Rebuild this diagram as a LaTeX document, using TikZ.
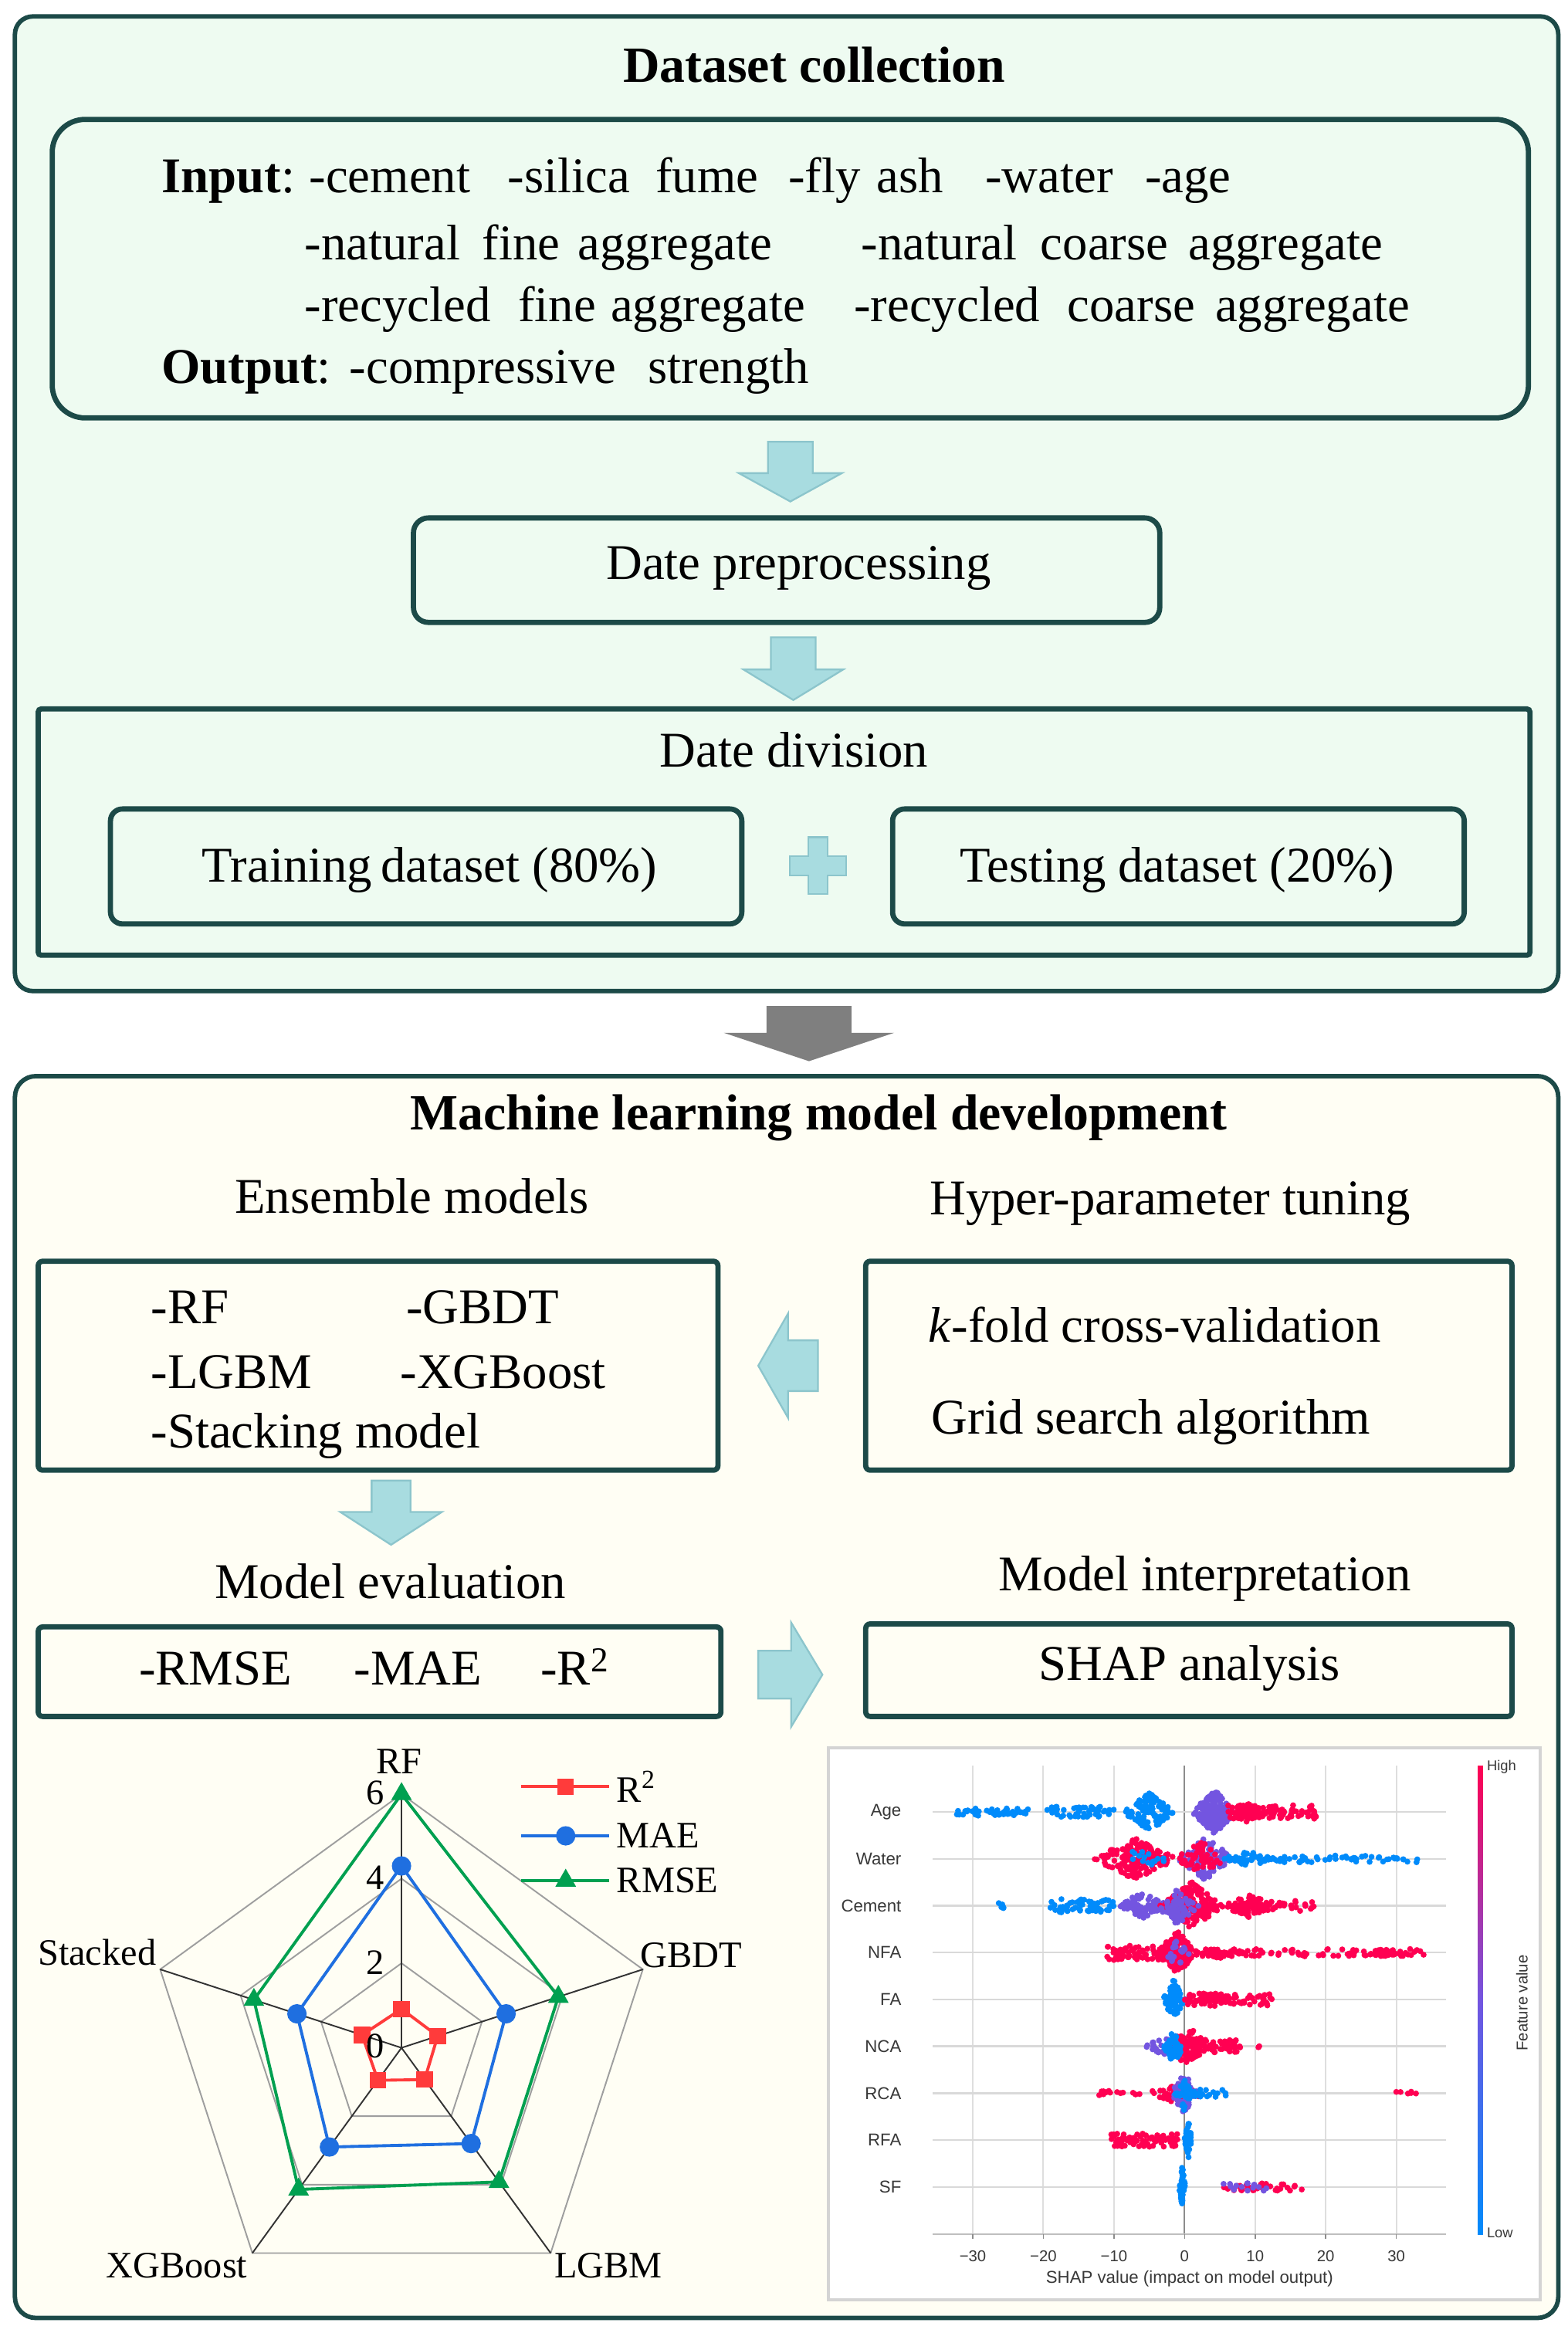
\documentclass[tikz,border=0pt]{standalone}
\usepackage{fontspec}
\setmainfont{Liberation Serif}
\newfontfamily\shapfont{Liberation Sans}
\usetikzlibrary{shapes.geometric}
\definecolor{bordc}{HTML}{1C4A48}
\definecolor{topfill}{HTML}{EEFBF1}
\definecolor{botfill}{HTML}{FFFEF4}
\definecolor{arrfill}{HTML}{A8DCE0}
\definecolor{arrdraw}{HTML}{8CC5CC}
\definecolor{grayarr}{HTML}{7F7F7F}
\definecolor{shapblue}{HTML}{008BFB}
\definecolor{shappink}{HTML}{FF0052}
\definecolor{shappurp}{HTML}{7355E0}
\definecolor{shapmag}{HTML}{B8309A}
\definecolor{r2c}{HTML}{FF3B3B}
\definecolor{maec}{HTML}{1F6FE0}
\definecolor{rmsec}{HTML}{00A050}
\newcommand\dnarrow[6]{% cx, top, headstart, tip, shafthalf, headhalf
  \draw[blockarr] ({#1-#5},#2) -- ({#1+#5},#2) -- ({#1+#5},#3) -- ({#1+#6},#3) -- (#1,#4) -- ({#1-#6},#3) -- ({#1-#5},#3) -- cycle;}
\newcommand\hzarrow[6]{% cy, tail, headbase, tip, shafthalf, headhalf
  \draw[blockarr] (#2,{#1-#5}) -- (#3,{#1-#5}) -- (#3,{#1-#6}) -- (#4,#1) -- (#3,{#1+#6}) -- (#3,{#1+#5}) -- (#2,{#1+#5}) -- cycle;}
\newcommand\swarm[6]{% row y, center v, halfwidth v, halfheight, count, colour
  \foreach \k in {1,...,#5}{%
    \pgfmathsetmacro\swu{(rand+rand)/2}%
    \pgfmathsetmacro\swv{rand}%
    \pgfmathsetmacro\swx{793.6+4.73*(#2+#3*\swu)}%
    \pgfmathsetmacro\swy{#1+#4*\swv*(1-abs(\swu))}%
    \fill[#6] (\swx,\swy) circle[radius=2];
  }}
\newcommand\swarmu[6]{% row y, low v, high v, halfheight, count, colour (uniform spread)
  \foreach \k in {1,...,#5}{%
    \pgfmathsetmacro\swu{(rand+1)/2}%
    \pgfmathsetmacro\swv{rand}%
    \pgfmathsetmacro\swx{793.6+4.73*(#2+(#3-#2)*\swu)}%
    \pgfmathsetmacro\swy{#1+#4*\swv}%
    \fill[#6] (\swx,\swy) circle[radius=2];
  }}
\tikzset{
  outerbox/.style={draw=bordc, line width=3pt, rounded corners=12pt, inner sep=0pt},
  inbox/.style={draw=bordc, line width=3.5pt, inner sep=0pt},
  wd/.style={font=\fontsize{33.5}{40}\selectfont, inner sep=0pt, anchor=base west},
  ctr/.style={font=\fontsize{33.5}{40}\selectfont, inner sep=0pt, anchor=base},
  ttl/.style={font=\fontsize{34}{40}\selectfont\bfseries, inner sep=0pt, anchor=base},
  blockarr/.style={fill=arrfill, draw=arrdraw, line width=1.2pt, line join=miter},
  radlab/.style={font=\fontsize{25}{30}\selectfont, inner sep=0pt},
  ticklab/.style={font=\fontsize{24}{28}\selectfont, inner sep=0pt},
  shaplab/.style={font=\shapfont\fontsize{11.5}{13}\selectfont, text=black!78, inner sep=0pt},
  sqm/.style={rectangle, fill=r2c, minimum size=11pt, inner sep=0pt},
  cim/.style={circle, fill=maec, minimum size=13pt, inner sep=0pt},
  trm/.style={regular polygon, regular polygon sides=3, fill=rmsec, minimum size=16pt, inner sep=0pt},
}
\begin{document}
\begin{tikzpicture}[x=1pt,y=-1pt]
\useasboundingbox (0,0) rectangle (1050,1563.1);
\fill[white] (0,0) rectangle (1050,1563.1);

% ---------------- top panel
\node[outerbox, fill=topfill, minimum width=1034pt, minimum height=653pt] (top) at (527,337.5) {};
\node[ttl] (ttop) at (545.5,55) {Dataset collection};
\node[inbox, rounded corners=22pt, minimum width=989pt, minimum height=200pt] (inp) at (529.5,180) {};
\node[wd] (w1) at (108,129) {\textbf{Input}:};
\node[wd] (w2) at (207,129) {-cement};
\node[wd] (w3) at (340,129) {-silica};
\node[wd] (w4) at (439,129) {fume};
\node[wd] (w5) at (528,129) {-fly};
\node[wd] (w6) at (587,129) {ash};
\node[wd] (w7) at (660,129) {-water};
\node[wd] (w8) at (767,129) {-age};
\node[wd] (w9) at (204,174) {-natural};
\node[wd] (w10) at (323,174) {fine};
\node[wd] (w11) at (387,174) {aggregate};
\node[wd] (w12) at (577,174) {-natural};
\node[wd] (w13) at (697,174) {coarse};
\node[wd] (w14) at (796,174) {aggregate};
\node[wd] (w15) at (204,215.6) {-recycled};
\node[wd] (w16) at (347,215.6) {fine};
\node[wd] (w17) at (409,215.6) {aggregate};
\node[wd] (w18) at (572,215.6) {-recycled};
\node[wd] (w19) at (715,215.6) {coarse};
\node[wd] (w20) at (814,215.6) {aggregate};
\node[wd] (w21) at (108,257) {\textbf{Output}:};
\node[wd] (w22) at (234,257) {-compressive};
\node[wd] (w23) at (434,257) {strength};

\dnarrow{529.5}{296}{317}{336}{15}{34.5}
\node[inbox, rounded corners=10pt, minimum width=500pt, minimum height=70pt] (prep) at (527,382) {};
\node[ctr] (tprep) at (535,388) {Date preprocessing};
\dnarrow{531.5}{427}{448.5}{469}{15}{33.5}

\node[inbox, rounded corners=2pt, minimum width=999.4pt, minimum height=165pt] (div) at (525.3,557.5) {};
\node[ctr] (tdiv) at (532,514) {Date division};
\node[inbox, rounded corners=8pt, minimum width=423pt, minimum height=77pt] (train) at (285.5,580.5) {};
\node[wd] (ttrain1) at (135,591) {Training};
\node[wd] (ttrain2) at (255,591) {dataset (80\%)};
\node[inbox, rounded corners=8pt, minimum width=383pt, minimum height=77pt] (test) at (789.5,580.5) {};
\node[wd] (ttest1) at (643,591) {Testing};
\node[wd] (ttest2) at (749,591) {dataset (20\%)};
\draw[blockarr] (541.5,561) -- (554.5,561) -- (554.5,573.5) -- (567,573.5) -- (567,586.5) -- (554.5,586.5) -- (554.5,599) -- (541.5,599) -- (541.5,586.5) -- (529,586.5) -- (529,573.5) -- (541.5,573.5) -- cycle;

% ---------------- grey arrow
\fill[grayarr] (513.5,674) -- (570.5,674) -- (570.5,692) -- (599,692) -- (542,711) -- (485,692) -- (513.5,692) -- cycle;

% ---------------- bottom panel
\node[outerbox, rounded corners=14pt, fill=botfill, minimum width=1034pt, minimum height=832pt] (bot) at (527,1137) {};
\node[ttl] (tbot) at (548.5,757) {Machine learning model development};
\node[ctr] (tens) at (276,813) {Ensemble models};
\node[ctr] (thyp) at (784,814) {Hyper-parameter tuning};
\node[inbox, rounded corners=3pt, minimum width=455.4pt, minimum height=140pt] (ens) at (253.3,915) {};
\node[wd] (e1) at (101,887) {-RF};
\node[wd] (e2) at (272,887) {-GBDT};
\node[wd] (e3) at (101,930) {-LGBM};
\node[wd] (e4) at (268,930) {-XGBoost};
\node[wd] (e5) at (101,970) {-Stacking model};
\node[inbox, rounded corners=3pt, minimum width=433pt, minimum height=140pt] (hyp) at (796.5,915) {};
\node[wd] (h1) at (622,899) {\textit{k}-fold cross-validation};
\node[wd] (h2) at (624,961) {Grid search algorithm};
\hzarrow{915}{548}{528}{508}{17}{35}
\dnarrow{262}{992}{1013}{1035}{13}{34}
\node[ctr] (teval) at (261.5,1071) {Model evaluation};
\node[ctr] (tint) at (807,1066) {Model interpretation};
\node[inbox, rounded corners=3pt, minimum width=457.4pt, minimum height=60pt] (eval) at (254.3,1120) {};
\node[wd] (m1) at (93,1129) {-RMSE};
\node[wd] (m2) at (237,1129) {-MAE};
\node[wd] (m3) at (362,1129) {-R\textsuperscript{2}};
\node[inbox, rounded corners=3pt, minimum width=433pt, minimum height=62pt] (shapbox) at (796.5,1119) {};
\node[ctr] (tshap) at (797,1126) {SHAP analysis};
\hzarrow{1122}{508}{530}{551}{16}{35}

% ---------------- radar chart
\begin{scope}[shift={(269,1372)}, x=28.333pt, y=28.333pt]
  \foreach \r in {2,4,6}
    \draw[black!38, line width=1pt] (90:\r) -- (18:\r) -- (-54:\r) -- (-126:\r) -- (162:\r) -- cycle;
  \foreach \a in {90,18,-54,-126,162}
    \draw[black!80, line width=1pt] (0,0) -- (\a:6);
  \draw[rmsec, line width=2pt] (90:6) -- (18:3.9) -- (-54:3.92) -- (-126:4.14) -- (162:3.67) -- cycle;
  \draw[maec, line width=2pt] (90:4.3) -- (18:2.6) -- (-54:2.8) -- (-126:2.9) -- (162:2.6) -- cycle;
  \draw[r2c, line width=2pt] (90:0.92) -- (18:0.9) -- (-54:0.93) -- (-126:0.95) -- (162:0.98) -- cycle;
  \foreach \a/\v/\n in {90/6/1,18/3.9/2,-54/3.92/3,-126/4.14/4,162/3.67/5}
    \node[trm] (rm\n) at (\a:\v) {};
  \foreach \a/\v/\n in {90/4.3/1,18/2.6/2,-54/2.8/3,-126/2.9/4,162/2.6/5}
    \node[cim] (ma\n) at (\a:\v) {};
  \foreach \a/\v/\n in {90/0.92/1,18/0.9/2,-54/0.93/3,-126/0.95/4,162/0.98/5}
    \node[sqm] (rs\n) at (\a:\v) {};
\end{scope}
\node[ticklab] (k6) at (251.5,1201) {6};
\node[ticklab] (k4) at (251.5,1258) {4};
\node[ticklab] (k2) at (251.5,1315) {2};
\node[ticklab] (k0) at (251.5,1371) {0};
\node[radlab] (lrf) at (267.5,1180) {RF};
\node[radlab] (lgb) at (463,1310) {GBDT};
\node[radlab] (llg) at (407.5,1518) {LGBM};
\node[radlab] (lxg) at (118.5,1518) {XGBoost};
\node[radlab] (lst) at (65,1308) {Stacked};
\coordinate (g1a) at (349,1197); \coordinate (g1b) at (408,1197);
\coordinate (g2a) at (349,1230); \coordinate (g2b) at (408,1230);
\coordinate (g3a) at (349,1260); \coordinate (g3b) at (408,1260);
\draw[r2c, line width=2pt] (g1a) -- (g1b);
\draw[maec, line width=2pt] (g2a) -- (g2b);
\draw[rmsec, line width=2pt] (g3a) -- (g3b);
\node[sqm] (lg1) at (379,1197) {};
\node[cim] (lg2) at (379,1230) {};
\node[trm] (lg3) at (379,1260) {};
\node[radlab, anchor=west] (lt1) at (413,1197) {R\textsuperscript{2}};
\node[radlab, anchor=west] (lt2) at (413,1230) {MAE};
\node[radlab, anchor=west] (lt3) at (413,1260) {RMSE};

% ---------------- SHAP plot
\fill[white] (555,1171) rectangle (1032,1541);
\draw[black!17, line width=2pt] (555,1171) rectangle (1032,1541);
\foreach \v in {-30,-20,-10,10,20,30}
  \draw[black!13, line width=1pt] ({793.6+4.73*\v},1183) -- ({793.6+4.73*\v},1497);
\draw[black!45, line width=1pt] (793.6,1183) -- (793.6,1497);
\foreach \yy in {1214,1245.4,1276.8,1308.2,1339.6,1371,1402.4,1433.8,1465.2}
  \draw[black!15, line width=1.3pt] (625,\yy) -- (969,\yy);
\draw[black!25, line width=1.2pt] (625,1497) -- (969,1497);
\foreach \v in {-30,-20,-10,0,10,20,30}
  \draw[black!45, line width=0.8pt] ({793.6+4.73*\v},1497) -- ({793.6+4.73*\v},1500);
\foreach \v/\s in {-30/−30,-20/−20,-10/−10,0/0,10/10,20/20,30/30}
  \node[shaplab, font=\shapfont\fontsize{10.5}{12}\selectfont] (tk\v) at ({793.6+4.73*\v},1511.6) {\s};
\node[shaplab] (xt) at (797,1527) {SHAP value (impact on model output)};
\foreach \yy/\s in {1214/Age,1245.4/Water,1276.8/Cement,1308.2/NFA,1339.6/FA,1371/NCA,1402.4/RCA,1433.8/RFA,1465.2/SF}
  \node[shaplab, anchor=east] (f\s) at (604,\yy) {\s};
\shade[bottom color=shapblue, top color=shappink, middle color=shappurp] (990,1183) rectangle (993.5,1497);
\node[shaplab, anchor=west, font=\shapfont\fontsize{9.5}{11}\selectfont] (hi) at (996,1184) {High};
\node[shaplab, anchor=west, font=\shapfont\fontsize{9.5}{11}\selectfont] (lo) at (996,1496) {Low};
\node[shaplab, rotate=90, font=\shapfont\fontsize{10.5}{12}\selectfont] (fv) at (1019.6,1342) {Feature value};

\pgfmathsetseed{4242}
% Age
\swarmu{1214}{-32.5}{-22}{2.5}{45}{shapblue}
\swarmu{1214}{-19.5}{-10}{3.5}{50}{shapblue}
\swarm{1214}{-5}{3.8}{13}{100}{shapblue}
\swarm{1214}{4.2}{3.2}{15}{170}{shappurp}
\swarm{1214}{9}{3}{7}{50}{shappink}
\swarmu{1214}{6}{19}{4.5}{80}{shappink}
% Water
\swarm{1245.4}{-7}{6}{14}{170}{shappink}
\swarm{1245.4}{-6}{4}{8}{15}{shapblue}
\swarm{1245.4}{3}{4}{15}{110}{shappurp}
\swarm{1245.4}{2.5}{4}{12}{50}{shappink}
\swarm{1245.4}{9}{4}{5}{40}{shapblue}
\swarmu{1245.4}{10}{33}{2.5}{55}{shapblue}
% Cement
\swarmu{1276.8}{-26.5}{-25.5}{2}{5}{shapblue}
\swarmu{1276.8}{-19}{-10}{4.5}{60}{shapblue}
\swarm{1276.8}{-6}{4}{9}{70}{shappurp}
\swarm{1276.8}{1}{4.5}{16}{160}{shappink}
\swarm{1276.8}{-1}{3}{14}{60}{shappurp}
\swarm{1276.8}{9}{4}{8}{60}{shappink}
\swarmu{1276.8}{7}{18.5}{4}{50}{shappink}
% NFA
\swarmu{1308.2}{-11}{-3}{5}{60}{shappink}
\swarm{1308.2}{-1}{3}{15}{120}{shappink}
\swarm{1308.2}{-1}{2}{10}{20}{shappurp}
\swarm{1308.2}{5}{4}{5}{40}{shappink}
\swarmu{1308.2}{2}{24}{2.5}{45}{shappink}
\swarmu{1308.2}{23}{34}{2.5}{50}{shappink}
% FA
\swarm{1339.6}{-1.5}{1.6}{14}{70}{shapblue}
\swarmu{1339.6}{0}{12.5}{4}{70}{shappink}
\swarm{1339.6}{4}{4}{5}{25}{shappink}
% NCA
\swarm{1371}{-3}{3}{6}{30}{shappurp}
\swarm{1371}{0.5}{3}{14}{80}{shappink}
\swarm{1371}{-1.5}{1.5}{12}{50}{shapblue}
\swarmu{1371}{1}{8}{4.5}{50}{shappink}
\swarmu{1371}{10.3}{10.7}{1}{2}{shappink}
% RCA
\swarmu{1402.4}{-12.5}{-3}{1.5}{14}{shappink}
\swarm{1402.4}{-1}{4}{8}{60}{shappink}
\swarm{1402.4}{0}{2}{14}{60}{shappurp}
\swarm{1402.4}{0}{1.5}{12}{30}{shapblue}
\swarmu{1402.4}{1}{6}{2.5}{18}{shapblue}
\swarmu{1402.4}{29}{33.5}{1}{6}{shappink}
% RFA
\swarmu{1433.8}{-10.5}{-1}{4.5}{80}{shappink}
\swarm{1433.8}{0.5}{0.6}{14}{40}{shapblue}
% SF
\swarm{1465.2}{-0.3}{0.5}{15}{40}{shapblue}
\swarmu{1465.2}{4.5}{18}{2.5}{35}{shappink}
\swarmu{1465.2}{5}{12}{2.5}{15}{shappurp}
\end{tikzpicture}
\end{document}
